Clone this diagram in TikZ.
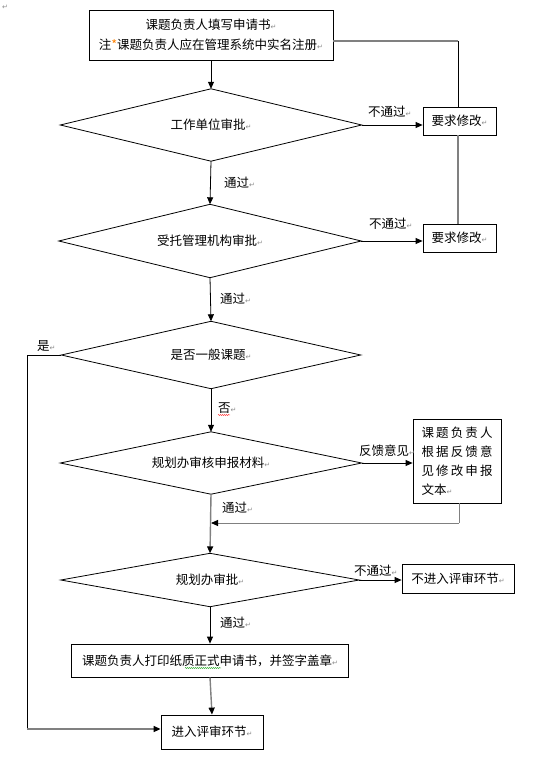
\documentclass[tikz,border=0pt]{standalone}
\usepackage{fontspec}
\setmainfont{Noto Sans CJK SC}
\newfontfamily\dejavu{DejaVu Sans}
\usetikzlibrary{shapes.geometric,arrows.meta,decorations.pathmorphing}
\definecolor{lgray}{HTML}{808080}
\definecolor{pgray}{HTML}{8A8A8A}
\newcommand\pmark{{\dejavu\fontsize{7}{7}\selectfont\textcolor{pgray}{↵}}}
\begin{document}
\begin{tikzpicture}[x=1pt,y=-1pt,
  font=\fontsize{12.5}{15}\selectfont,
  box/.style={draw, line width=0.8pt, inner sep=0pt},
  dia/.style={inner sep=0pt, append after command={
      \pgfextra{\draw[line width=0.8pt] (\tikzlastnode.north) -- (\tikzlastnode.east)
        -- (\tikzlastnode.south) -- (\tikzlastnode.west) -- cycle;}}},
  arr/.style={line width=0.8pt, -{Triangle[length=7pt,width=6pt,color=black]}},
  blk/.style={line width=0.8pt},
  gline/.style={draw=lgray, line width=1.4pt},
  lbl/.style={inner sep=0pt, anchor=west}]
\useasboundingbox (0,0) rectangle (537,759);
\node[lbl] (pm0) at (2,7) {\pmark};
% main column
\node[box, minimum width=244pt, minimum height=50pt, align=center,
  font=\fontsize{12.5}{20}\selectfont] (top) at (211,35)
  {课题负责人填写申请书\pmark\\注\textcolor{orange}{*}课题负责人应在管理系统中实名注册\pmark};
\node[dia, minimum width=301pt, minimum height=72pt] (d1) at (211,125) {工作单位审批\pmark};
\node[dia, minimum width=302pt, minimum height=73pt] (d2) at (210,241) {受托管理机构审批\pmark};
\node[dia, minimum width=299pt, minimum height=67pt] (d3) at (211,355) {是否一般课题\pmark};
\node[dia, minimum width=301pt, minimum height=62pt] (d4) at (211,463) {规划办审核申报材料\pmark};
\node[dia, minimum width=298pt, minimum height=53pt] (d5) at (210,580) {规划办审批\pmark};
\node[box, minimum width=277pt, minimum height=33pt] (pr) at (210,660.5) {课题负责人打印纸质正式申请书，并签字盖章\pmark};
\node[box, minimum width=102pt, minimum height=34pt] (en) at (212,732) {进入评审环节\pmark};
% right column
\node[box, minimum width=73pt, minimum height=28pt] (r1) at (459.5,121) {要求修改\pmark};
\node[box, minimum width=73pt, minimum height=28pt] (r2) at (459.5,238) {要求修改\pmark};
\node[box, minimum width=88pt, minimum height=84pt, align=left, text width=71pt,
  font=\fontsize{12.5}{19}\selectfont] (fb) at (457,461)
  {\makebox[71pt][l]{课\hfill 题\hfill 负\hfill 责\hfill 人}\\
   \makebox[71pt][l]{根\hfill 据\hfill 反\hfill 馈\hfill 意}\\
   \makebox[71pt][l]{见\hfill 修\hfill 改\hfill 申\hfill 报}\\
   文本\pmark};
\node[box, minimum width=112pt, minimum height=29pt] (no) at (458,578.5) {不进入评审环节\pmark};
% coordinates
\coordinate (c1) at (458,41);
\coordinate (c2) at (27,355);
\coordinate (c3) at (27,729);
\coordinate (c4) at (459,523);
% connectors
\draw[arr] (top.south) -- (d1.north);
\draw[arr] (d1.east) -- (d1.east -| r1.west);
\draw[gline] (top.east |- c1) -- (c1);
\draw[blk] (c1) -- (c1 |- r1.north);
\draw[gline] (r1.south -| c1) -- (r2.north -| c1);
\draw[arr] (d1.south) -- (d2.north);
\draw[arr] (d2.east) -- (d2.east -| r2.west);
\draw[arr] (d2.south) -- (d3.north);
\draw[blk] (d3.west) -- (c2) -- (c3);
\draw[arr, gline] (c3) -- (c3 -| en.west);
\draw[arr] (d3.south) -- (d4.north);
\draw[arr] (d4.east) -- (d4.east -| fb.west);
\draw[draw=lgray, line width=1pt] (fb.south -| c4) -- (c4);
\draw[arr, draw=lgray, line width=1pt] (c4) -- (c4 -| d4.south);
\draw[arr, gline] (d4.south) -- (d5.north);
\draw[arr] (d5.east) -- (d5.east -| no.west);
\draw[arr] (d5.south) -- (pr.north);
\draw[arr, gline] (pr.south) -- (en.north);
% labels
\node[lbl] (l1) at (368,112) {不通过\pmark};
\node[lbl] (l2) at (224,183) {通过\pmark};
\node[lbl] (l3) at (369,224) {不通过\pmark};
\node[lbl] (l4) at (220,299) {通过\pmark};
\node[lbl] (l5) at (37,346) {是\pmark};
\node[lbl] (l6) at (218,408) {否\pmark};
\node[lbl] (l7) at (359,451) {反馈意见\pmark};
\node[lbl] (l8) at (222,508) {通过\pmark};
\node[lbl] (l9) at (354,571) {不通过\pmark};
\node[lbl] (l10) at (220,623) {通过\pmark};
% spelling marks
\draw[red, line width=0.4pt, decorate, decoration={snake, segment length=2pt, amplitude=0.5pt}] (218,415) -- (230,415);
\draw[green!60!black, line width=0.4pt, decorate, decoration={snake, segment length=2pt, amplitude=0.5pt}] (185,668) -- (221,668);
\end{tikzpicture}
\end{document}
